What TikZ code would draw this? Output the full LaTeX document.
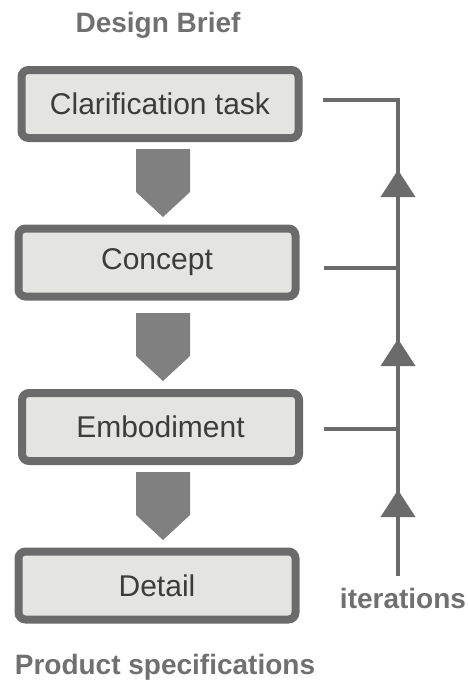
\documentclass[tikz,border=0pt]{standalone}
\usepackage{fontspec}
\setmainfont{Liberation Sans}
\usetikzlibrary{calc}
\definecolor{bordergray}{HTML}{6B6B6B}
\definecolor{boxfill}{HTML}{E4E4E0}
\definecolor{arrowgray}{HTML}{808080}
\definecolor{labelgray}{HTML}{707070}
\definecolor{textdark}{HTML}{3C3C3C}
\tikzset{
  stagebox/.style={draw=bordergray, fill=boxfill, line width=8pt, rounded corners=7pt,
    minimum width=277pt, minimum height=68pt, inner sep=0pt,
    font=\fontsize{30}{32}\selectfont, text=textdark},
  headlabel/.style={font=\bfseries\fontsize{28}{30}\selectfont, text=labelgray, inner sep=0pt},
  flowarrow/.style={fill=arrowgray},
  iterline/.style={draw=bordergray, line width=4pt},
  itertip/.style={fill=bordergray}
}
\begin{document}
\begin{tikzpicture}[x=1pt,y=-1pt]
\useasboundingbox (0,0) rectangle (468,683);
\node[headlabel] (brief) at (158,25) {Design Brief};
\node[stagebox] (c1) at (160,104) {Clarification task};
\node[stagebox] (c2) at (157,262.5) {Concept};
\node[stagebox] (c3) at (160.5,427) {Embodiment};
\node[stagebox] (c4) at (157,585.5) {Detail};
\node[headlabel] (spec) at (165,667) {Product specifications};
\node[headlabel] (iter) at (403,598) {iterations};
% flow arrows between stages
\foreach \t in {149,313,472}{
  \fill[flowarrow] (136,\t) -- (190,\t) -- (190,\t+43) -- (163,\t+68) -- (136,\t+43) -- cycle;
}
% iteration line
\coordinate (vtop) at (398,100);
\coordinate (vbot) at (398,576);
\coordinate (h1) at (323,100);
\coordinate (h2) at (324,268);
\coordinate (h3) at (324,429);
\coordinate (j2) at (398,268);
\coordinate (j3) at (398,429);
\draw[iterline] (vbot) -- (vtop) -- (h1);
\draw[iterline] (h2) -- (j2);
\draw[iterline] (h3) -- (j3);
\foreach \a in {170,339,490}{
  \fill[itertip] (398,\a) -- (415.5,\a+27) -- (380.5,\a+27) -- cycle;
}
\end{tikzpicture}
\end{document}
